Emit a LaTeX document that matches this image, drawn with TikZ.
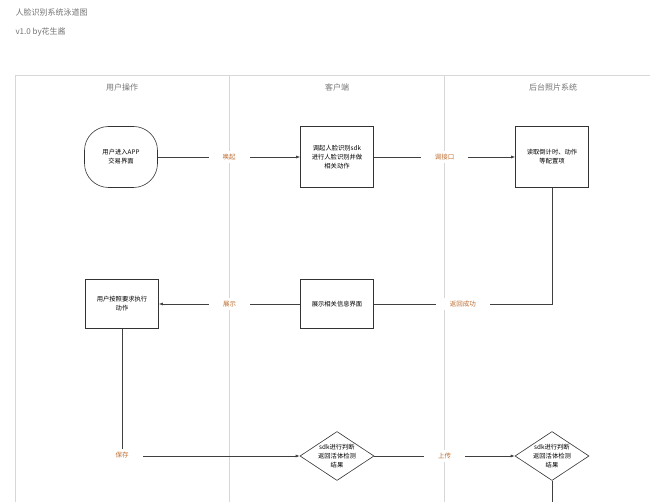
\documentclass[tikz,border=0pt]{standalone}
\usepackage{fontspec}
\setmainfont{Noto Sans CJK SC}
\usetikzlibrary{shapes.geometric,arrows.meta}
\definecolor{lane}{RGB}{215,215,215}
\definecolor{lbl}{RGB}{190,110,50}
\begin{document}
\begin{tikzpicture}[x=1pt,y=-1pt,
  box/.style={draw=black!80,line width=0.6pt,minimum width=73pt,minimum height=61pt,align=center,font=\fontsize{6.3}{9}\selectfont,inner sep=1pt},
  box2/.style={box,minimum height=49pt},
  dia/.style={draw=black!80,line width=0.6pt,diamond,aspect=1.5,minimum width=74pt,minimum height=49pt,inner sep=0pt,align=center,font=\fontsize{6.3}{9}\selectfont},
  lab/.style={fill=white,text=lbl,font=\fontsize{6.5}{8}\selectfont,inner xsep=14pt,inner ysep=3pt},
  conn/.style={draw=black!75,line width=0.6pt},
  arr/.style={conn,-{Latex[length=4pt,width=3pt]}},
  title/.style={text=black!55,font=\fontsize{8}{10}\selectfont}]
\useasboundingbox (0,0) rectangle (650,502);
% lanes
\draw[lane,line width=0.5pt] (650,75) -- (15,75) -- (15,502);
\draw[lane,line width=0.5pt] (229,75) -- (229,502);
\draw[lane,line width=0.5pt] (444,75) -- (444,502);
\node[title,anchor=west] (t1) at (12,12) {人脸识别系统泳道图};
\node[title,anchor=west] (t2) at (12,32) {v1.0 by花生酱};
\node[title] (l1) at (122,87) {用户操作};
\node[title] (l2) at (337,87) {客户端};
\node[title] (l3) at (553,87) {后台照片系统};
% nodes
\node[box,rounded corners=24pt] (n1) at (121,157) {用户进入APP\\交易界面};
\node[box] (n2) at (337,157) {调起人脸识别sdk\\进行人脸识别并做\\相关动作};
\node[box] (n3) at (552,157) {读取倒计时、动作\\等配置项};
\node[box2] (n4) at (122,304) {用户按照要求执行\\动作};
\node[box2] (n5) at (337,304) {展示相关信息界面};
\node[dia] (d1) at (337,456) {sdk进行判断\\返回活体检测\\结果};
\node[dia] (d2) at (552,456) {sdk进行判断\\返回活体检测\\结果};
\coordinate (c1) at (552,304);
\coordinate (c2) at (122,456);
\coordinate (c3) at (552,502);
% connectors
\draw[arr] (n1) -- node[lab]{唤起} (n2);
\draw[arr] (n2) -- node[lab]{调接口} (n3);
\draw[conn] (n3) -- (c1) -- node[lab]{返回成功} (n5);
\draw[arr] (n5) -- node[lab]{展示} (n4);
\draw[conn] (n4) -- (c2);
\draw[arr] (c2) -- (d1);
\node[lab] (s) at (122,455) {保存};
\draw[arr] (d1) -- node[lab]{上传} (d2);
\draw[conn] (d2) -- (c3);
\end{tikzpicture}
\end{document}
